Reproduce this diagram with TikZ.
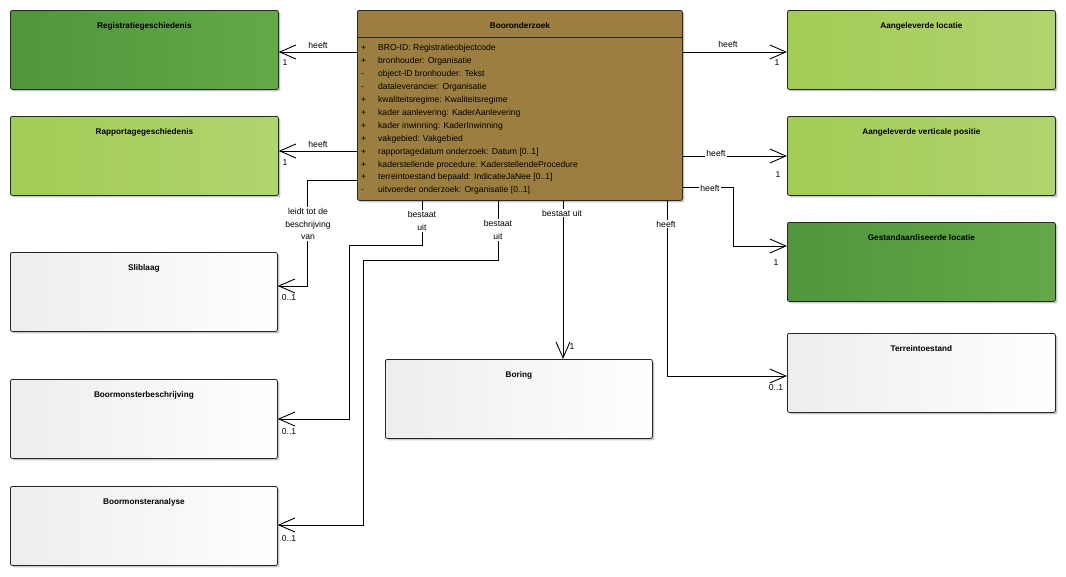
\documentclass[tikz,border=0pt]{standalone}
\usepackage{fontspec}
\setmainfont{Liberation Sans}
\usetikzlibrary{arrows.meta,shadows,calc}
\definecolor{dkgL}{HTML}{4F963C}
\definecolor{dkgR}{HTML}{64A848}
\definecolor{ltgL}{HTML}{A3CC55}
\definecolor{ltgR}{HTML}{B0D46F}
\definecolor{whL}{HTML}{EDEDED}
\definecolor{whR}{HTML}{FFFFFF}
\definecolor{brn}{HTML}{9C7F40}
\begin{document}
\begin{tikzpicture}[x=1pt,y=-1pt,
  cls/.style={draw=black!85, line width=0.8pt, rounded corners=2pt,
    minimum width=268pt, minimum height=79pt, inner sep=0pt, anchor=north west,
    drop shadow={shadow xshift=2pt,shadow yshift=-2pt,opacity=0.22,fill=black}},
  dkg/.style={cls,left color=dkgL,right color=dkgR},
  ltg/.style={cls,left color=ltgL,right color=ltgR},
  wht/.style={cls,left color=whL,right color=whR},
  ttl/.style={font=\fontsize{8.2}{10}\selectfont\bfseries, anchor=north, yshift=-9pt},
  attr/.style={font=\fontsize{8.6}{12.9}\selectfont, align=left, inner sep=0pt, anchor=north west},
  lbl/.style={font=\fontsize{8.6}{12.9}\selectfont, inner sep=1pt, align=center},
  wlbl/.style={lbl, fill=white},
  assoc/.style={draw=black, line width=1pt, -{Straight Barb[length=16pt,width=14pt,line width=0.9pt]}},
]
\useasboundingbox (0,0) rectangle (1066,576);
\fill[white] (0,0) rectangle (1066,576);

% classes
\node[dkg, label={[ttl]north:Registratiegeschiedenis}] (reg) at (10,10) {};
\node[ltg, label={[ttl]north:Rapportagegeschiedenis}] (rap) at (10,116) {};
\node[wht, minimum width=267pt, label={[ttl]north:Sliblaag}] (slib) at (10,252) {};
\node[wht, minimum width=267pt, label={[ttl]north:Boormonsterbeschrijving}] (bmb) at (10,379) {};
\node[wht, minimum width=267pt, label={[ttl]north:Boormonsteranalyse}] (bma) at (10,486) {};
\node[ltg, label={[ttl]north:Aangeleverde locatie}] (al) at (787,10) {};
\node[ltg, label={[ttl]north:Aangeleverde verticale positie}] (avp) at (787,116) {};
\node[dkg, label={[ttl]north:Gestandaardiseerde locatie}] (gest) at (787,222) {};
\node[wht, label={[ttl]north:Terreintoestand}] (ter) at (787,333) {};
\node[wht, minimum width=267pt, label={[ttl]north:Boring}] (bor) at (385,359) {};

\node[cls, fill=brn, minimum width=325pt, minimum height=190pt,
  label={[ttl]north:Booronderzoek}] (boo) at (357,10) {};
\draw[line width=0.8pt, black!85] (boo.west |- 0,37) -- (boo.east |- 0,37);
\node[attr] (attrs) at (361,44.5) {%
\makebox[17pt][l]{+}BRO-ID: Registratieobjectcode\\
\makebox[17pt][l]{+}bronhouder: Organisatie\\
\makebox[17pt][l]{-}object-ID bronhouder: Tekst\\
\makebox[17pt][l]{-}dataleverancier: Organisatie\\
\makebox[17pt][l]{+}kwaliteitsregime: Kwaliteitsregime\\
\makebox[17pt][l]{+}kader aanlevering: KaderAanlevering\\
\makebox[17pt][l]{+}kader inwinning: KaderInwinning\\
\makebox[17pt][l]{+}vakgebied: Vakgebied\\
\makebox[17pt][l]{+}rapportagedatum onderzoek: Datum [0..1]\\
\makebox[17pt][l]{+}kaderstellende procedure: KaderstellendeProcedure\\
\makebox[17pt][l]{+}terreintoestand bepaald: IndicatieJaNee [0..1]\\
\makebox[17pt][l]{-}uitvoerder onderzoek: Organisatie [0..1]};

% left associations
\draw[assoc] (boo.west |- 0,52) -- (reg.east |- 0,52);
\node[lbl] at (318,45) {heeft};
\node[lbl] at (285,63) {1};

\draw[assoc] (boo.west |- 0,151) -- (rap.east |- 0,151);
\node[lbl] at (318,144) {heeft};
\node[lbl] at (285,163) {1};

\draw[assoc] (boo.west |- 0,180) -- (307,180) -- (307,286) -- (slib.east |- 0,286);
\node[wlbl] at (308,224) {leidt tot de\\beschrijving\\van};
\node[lbl] at (289,298) {0..1};

\draw[assoc] (boo.south -| 422,0) -- (422,245) -- (349,245) -- (349,419) -- (bmb.east |- 0,419);
\node[wlbl] at (422,221) {bestaat\\uit};
\node[lbl] at (289,432) {0..1};

\draw[assoc] (boo.south -| 498,0) -- (498,260) -- (363,260) -- (363,525) -- (bma.east |- 0,525);
\node[wlbl] at (498,230) {bestaat\\uit};
\node[lbl] at (289,539) {0..1};

% bottom
\draw[assoc] (boo.south -| 563,0) -- (bor.north -| 563,0);
\node[wlbl] at (562,213) {bestaat uit};
\node[lbl] at (572,347) {1};

\draw[assoc] (boo.south -| 667,0) -- (667,376) -- (ter.west |- 0,376);
\node[wlbl] at (666,224) {heeft};
\node[lbl] at (776,388) {0..1};

% right associations
\draw[assoc] (boo.east |- 0,52) -- (al.west |- 0,52);
\node[lbl] at (728,44) {heeft};
\node[lbl] at (777,63) {1};

\draw[assoc] (boo.east |- 0,156) -- (avp.west |- 0,156);
\node[wlbl] at (716,153) {heeft};
\node[lbl] at (778,175) {1};

\draw[assoc] (boo.east |- 0,187) -- (733,187) -- (733,246) -- (gest.west |- 0,246);
\node[wlbl] at (710,188) {heeft};
\node[lbl] at (776,263) {1};
\end{tikzpicture}
\end{document}
